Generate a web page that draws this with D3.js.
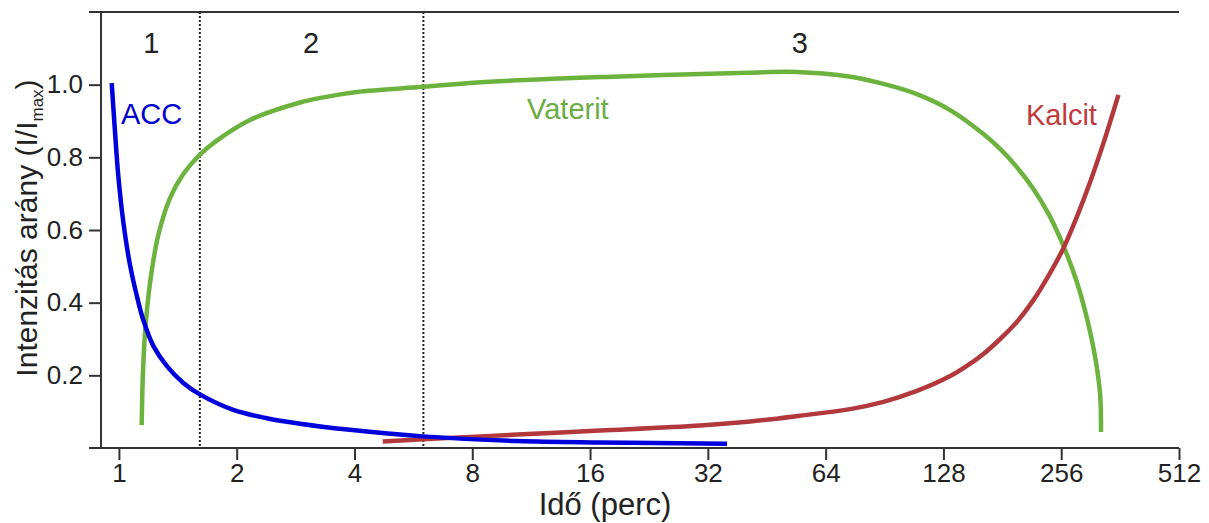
<!DOCTYPE html>
<html>
<head>
<meta charset="utf-8">
<script src="https://cdn.jsdelivr.net/npm/d3@7"></script>
<style>
  html, body { margin: 0; padding: 0; background: #fff; }
  svg { display: block; font-family: "Liberation Sans", Arial, sans-serif; }
</style>
</head>
<body>
<svg id="chart" width="1209" height="523"></svg>
<script>
// Time (minutes) and relative intensity I/Imax for each phase
const accTime = [0.9585, 0.9773, 0.9965, 1.0263, 1.0675, 1.121, 1.1544, 1.2244, 1.3249, 1.4609, 1.6024, 1.9607, 2.3866, 2.9036, 3.8969, 5.9883, 10.413, 16.97, 35.84];
const accValue = [1.004, 0.870, 0.749, 0.622, 0.504, 0.402, 0.352, 0.281, 0.226, 0.179, 0.149, 0.105, 0.082, 0.067, 0.050, 0.032, 0.019, 0.015, 0.012];

const vateritTime = [1.1436, 1.1504, 1.1661, 1.2009, 1.261, 1.3509, 1.4609, 1.6024, 1.7782, 2.1632, 2.9036, 3.33, 4.054, 5.999, 8.883, 18.32, 40.33, 54.11, 72.63, 89.93, 109.47, 133.18, 161.99, 178.72, 197.17, 217.41, 239.87, 259.4, 280.68, 297.7, 312.6, 321.94, 323.5];
const vateritValue = [0.063, 0.187, 0.316, 0.454, 0.586, 0.688, 0.754, 0.805, 0.846, 0.903, 0.951, 0.965, 0.980, 0.994, 1.008, 1.022, 1.033, 1.035, 1.023, 1.002, 0.974, 0.930, 0.864, 0.823, 0.773, 0.713, 0.636, 0.556, 0.457, 0.358, 0.250, 0.146, 0.044];

const kalcitTime = [4.7237, 5.9883, 10.413, 16.97, 30.57, 41.04, 55.07, 73.93, 89.93, 109.47, 133.18, 146.9, 161.99, 178.72, 197.17, 217.41, 239.87, 259.4, 280.68, 303.5, 328.2, 358.5];
const kalcitValue = [0.018, 0.024, 0.037, 0.048, 0.062, 0.073, 0.089, 0.107, 0.127, 0.157, 0.198, 0.226, 0.259, 0.300, 0.347, 0.407, 0.482, 0.550, 0.636, 0.732, 0.839, 0.972];

// Stage boundaries (minutes) and stage labels
const stageBounds = [1.61, 6.0];
const stageLabels = ["1", "2", "3"];
const stageLabelTime = [1.21, 3.1, 55];

const xTicks = [1, 2, 4, 8, 16, 32, 64, 128, 256, 512];
const yTicks = [0.2, 0.4, 0.6, 0.8, 1.0];

const svg = d3.select("#chart");
const plotLeft = 101, plotRight = 1179, plotTop = 12, plotBottom = 448, tickLen = 12;

const x = d3.scaleLog().base(2).domain([0.9, 512]).range([plotLeft, plotRight]);
const y = d3.scaleLinear().domain([0, 1.2]).range([plotBottom, plotTop]);

// Frame: top rule and axes
const axisColor = "#333";
svg.append("line").attr("x1", plotLeft - tickLen).attr("x2", plotRight).attr("y1", plotTop).attr("y2", plotTop)
  .attr("stroke", axisColor).attr("stroke-width", 2);

const xAxis = svg.append("g").attr("transform", `translate(0,${plotBottom})`)
  .call(d3.axisBottom(x).tickValues(xTicks).tickFormat(d3.format("d")).tickSize(tickLen).tickSizeOuter(0));
xAxis.select(".domain").remove();
svg.append("line").attr("x1", plotLeft - tickLen).attr("x2", plotRight).attr("y1", plotBottom).attr("y2", plotBottom)
  .attr("stroke", axisColor).attr("stroke-width", 2);
xAxis.selectAll(".tick line").attr("stroke", axisColor).attr("stroke-width", 2);
xAxis.selectAll(".tick text").attr("fill", "#222").attr("font-size", 26).attr("dy", null).attr("y", 34);

const yAxis = svg.append("g").attr("transform", `translate(${plotLeft},0)`)
  .call(d3.axisLeft(y).tickValues(yTicks).tickFormat(d3.format(".1f")).tickSize(tickLen).tickSizeOuter(0));
yAxis.select(".domain").attr("stroke", axisColor).attr("stroke-width", 2)
  .attr("d", `M0,${plotTop}V${plotBottom}`);
yAxis.selectAll(".tick line").attr("stroke", axisColor).attr("stroke-width", 2);
yAxis.selectAll(".tick text").attr("fill", "#222").attr("font-size", 26).attr("x", -18);

// Stage boundaries
svg.selectAll(".stage-line").data(stageBounds).join("line")
  .attr("class", "stage-line")
  .attr("x1", d => x(d)).attr("x2", d => x(d))
  .attr("y1", plotTop).attr("y2", plotBottom)
  .attr("stroke", "#222").attr("stroke-width", 2).attr("stroke-dasharray", "2,2");

svg.selectAll(".stage-label").data(stageLabels).join("text")
  .attr("class", "stage-label")
  .attr("x", (d, i) => x(stageLabelTime[i])).attr("y", 53)
  .attr("text-anchor", "middle").attr("font-size", 29).attr("fill", "#222")
  .text(d => d);

// Curves
const line = d3.line().x(d => x(d[0])).y(d => y(d[1])).curve(d3.curveCatmullRom.alpha(0.5));
const series = [
  { time: vateritTime, value: vateritValue, color: "#6cb33e" },
  { time: kalcitTime, value: kalcitValue, color: "#b2383c" },
  { time: accTime, value: accValue, color: "#0000dc" }
];
series.forEach(s => {
  svg.append("path")
    .datum(s.time.map((t, i) => [t, s.value[i]]))
    .attr("d", line)
    .attr("fill", "none").attr("stroke", s.color).attr("stroke-width", 4.5)
    .attr("stroke-linecap", "butt").attr("stroke-linejoin", "round");
});

// Series labels
svg.append("text").attr("x", 121).attr("y", 124).attr("font-size", 29).attr("fill", "#0000d0").text("ACC");
svg.append("text").attr("x", 527).attr("y", 119).attr("font-size", 29).attr("fill", "#6aac45").text("Vaterit");
svg.append("text").attr("x", 1026).attr("y", 125).attr("font-size", 29).attr("fill", "#c0393b").text("Kalcit");

// Axis titles
svg.append("text").attr("x", 605).attr("y", 515).attr("text-anchor", "middle")
  .attr("font-size", 31).attr("fill", "#222").text("Idő (perc)");

const yTitle = svg.append("text")
  .attr("transform", "translate(37,228) rotate(-90)")
  .attr("text-anchor", "middle").attr("font-size", 30).attr("fill", "#222");
yTitle.append("tspan").text("Intenzitás arány (I/I");
yTitle.append("tspan").attr("font-size", 17).attr("dy", 6).text("max");
yTitle.append("tspan").attr("dy", -6).text(")");
</script>
</body>
</html>
